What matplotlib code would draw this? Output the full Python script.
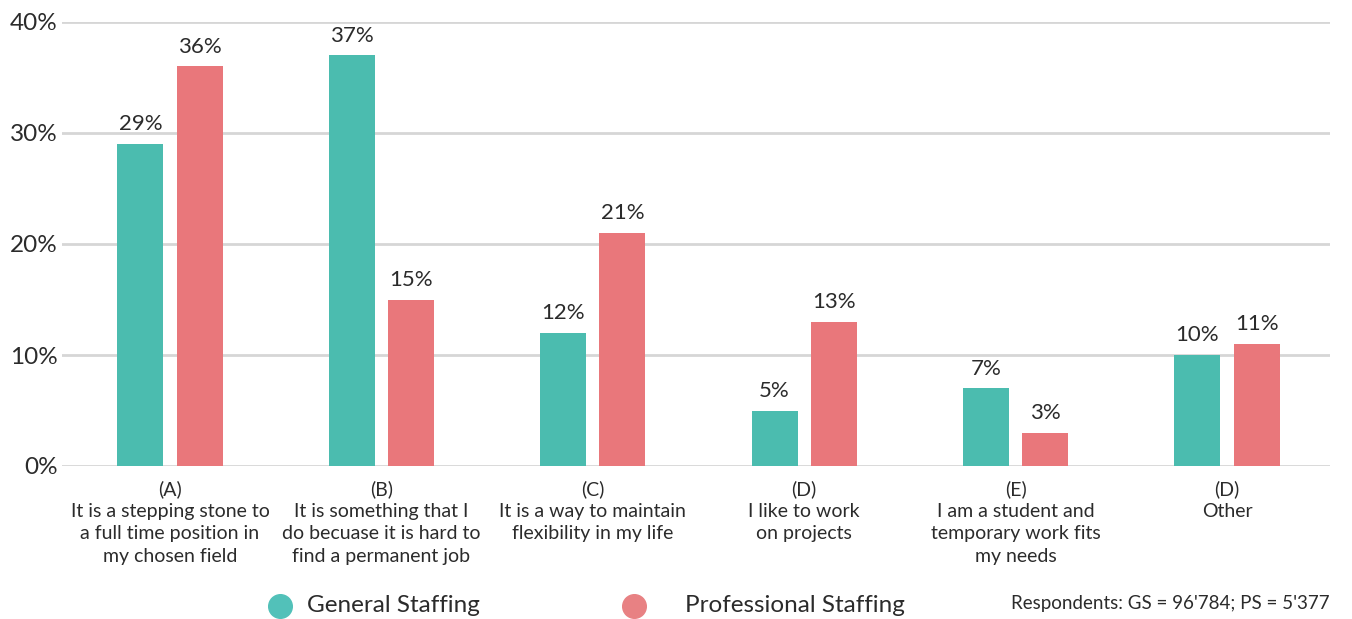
import numpy as np
import matplotlib.pyplot as plt
from matplotlib.lines import Line2D

plt.rcParams['font.family'] = ['Lato', 'DejaVu Sans']

# survey answers and shares per staffing segment (%)
categories = [
    "(A)\nIt is a stepping stone to\na full time position in\nmy chosen field",
    "(B)\nIt is something that I\ndo becuase it is hard to\nfind a permanent job",
    "(C)\nIt is a way to maintain\nflexibility in my life",
    "(D)\nI like to work\non projects",
    "(E)\nI am a student and\ntemporary work fits\nmy needs",
    "(D)\nOther",
]
general = [29, 37, 12, 5, 7, 10]
professional = [36, 15, 21, 13, 3, 11]
yticks = [0, 10, 20, 30, 40]

teal = "#4bbcaf"
coral = "#e9777b"
text_col = "#2b2b2b"

fig = plt.figure(figsize=(13.52, 6.19), dpi=100)
ax = fig.add_axes([62 / 1352, 153 / 619, 1268 / 1352, 444 / 619])

x = np.arange(len(categories))
w = 0.218
off = 0.14

for yv in yticks:
    ax.axhline(yv, color="#d6d6d6", lw=2, zorder=0)

b1 = ax.bar(x - off, general, w, color=teal, zorder=2)
b2 = ax.bar(x + off, professional, w, color=coral, zorder=2)

for bars, vals in ((b1, general), (b2, professional)):
    for r, v in zip(bars, vals):
        ax.annotate(f"{v}%", (r.get_x() + r.get_width() / 2, v),
                    xytext=(0, 7), textcoords="offset points",
                    ha="center", va="bottom", fontsize=16, color=text_col)

ax.set_xlim(-0.511, 5.487)
ax.set_ylim(0, 40)
ax.set_yticks(yticks)
ax.set_yticklabels([f"{v}%" for v in yticks], fontsize=17.5, color=text_col)
ax.set_xticks(x)
ax.set_xticklabels(categories, fontsize=14, color=text_col, linespacing=1.38)
ax.tick_params(length=0)
ax.tick_params(axis="y", pad=3)
ax.tick_params(axis="x", pad=10)
for s in ax.spines.values():
    s.set_visible(False)

# legend row: round dots + labels
for cx, col in ((280, "#52c1b9"), (634, "#e88183")):
    fig.add_artist(Line2D([cx / 1352], [1 - 606 / 619], marker="o",
                          markersize=17, color=col, linestyle="none",
                          transform=fig.transFigure))
fig.text(307 / 1352, 1 - 605 / 619, "General Staffing", fontsize=17.5,
         color=text_col, va="center")
fig.text(685 / 1352, 1 - 605 / 619, "Professional Staffing", fontsize=17.5,
         color=text_col, va="center")
fig.text(1330 / 1352, 1 - 604 / 619, "Respondents: GS = 96'784; PS = 5'377",
         fontsize=13.5, color=text_col, ha="right", va="center")

fig.savefig("out.png", dpi=100)
